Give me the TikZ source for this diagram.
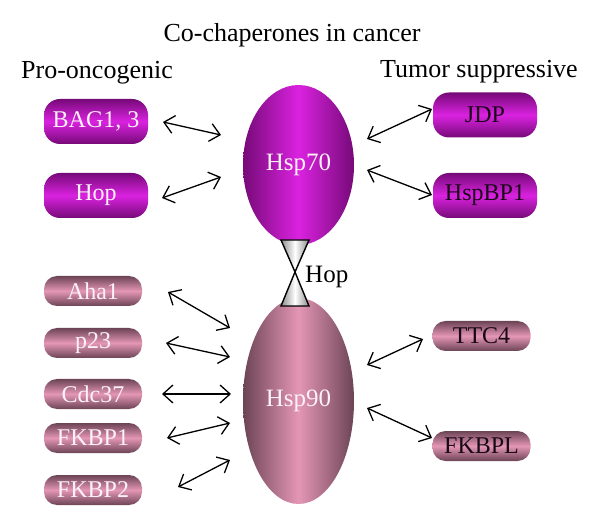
\documentclass[tikz,border=0pt]{standalone}
\usepackage{fontspec}
\setmainfont{Liberation Serif}
\usetikzlibrary{arrows.meta,shapes.geometric}

\definecolor{magDark}{HTML}{760A78}
\definecolor{magLight}{HTML}{DA22E0}
\definecolor{pinkDark}{HTML}{6C4456}
\definecolor{pinkLight}{HTML}{E496B5}
\definecolor{txtLight}{HTML}{FBF1F6}
\definecolor{txtDark}{HTML}{180818}
\definecolor{bowGrey}{HTML}{8C8C8C}

\pgfdeclarehorizontalshading{magH}{100bp}{color(0bp)=(magDark); color(25bp)=(magDark); color(50bp)=(magLight); color(75bp)=(magDark); color(100bp)=(magDark)}
\pgfdeclarehorizontalshading{pinkH}{100bp}{color(0bp)=(pinkDark); color(25bp)=(pinkDark); color(50bp)=(pinkLight); color(75bp)=(pinkDark); color(100bp)=(pinkDark)}

\begin{document}
\begin{tikzpicture}[x=1pt,y=-1pt,
  headtext/.style={inner sep=0pt, font=\fontsize{26}{26}\selectfont, text=black},
  magbox/.style={rounded corners=16pt, minimum width=104pt, minimum height=45pt, inner sep=0pt,
    top color=magDark, bottom color=magDark, middle color=magLight,
    font=\fontsize{24}{24}\selectfont},
  pinkbox/.style={rounded corners=13pt, minimum width=98pt, minimum height=30pt, inner sep=0pt,
    top color=pinkDark, bottom color=pinkDark, middle color=pinkLight,
    font=\fontsize{24}{24}\selectfont},
  lighttext/.style={text=txtLight},
  darktext/.style={text=txtDark},
  magell/.style={ellipse, minimum width=111pt, minimum height=160pt, inner sep=0pt,
    shading=magH, text=txtLight, font=\fontsize{25}{25}\selectfont},
  pinkell/.style={ellipse, minimum width=111pt, minimum height=206pt, inner sep=0pt,
    shading=pinkH, text=txtLight, font=\fontsize{25}{25}\selectfont},
  bow/.style={draw=black, line width=1.4pt, line join=miter,
    left color=bowGrey, right color=bowGrey, middle color=white},
  link/.style={line width=1.3pt, draw=black,
    {Straight Barb[length=10pt,width=18pt]}-{Straight Barb[length=10pt,width=18pt]}}
]
\useasboundingbox (0,0) rectangle (600,529);

% headings
\node[headtext, anchor=base] (title) at (292,42) {Co-chaperones in cancer};
\node[headtext, anchor=base west] (pro) at (21,79) {Pro-oncogenic};
\node[headtext, anchor=base east] (sup) at (578,78) {Tumor suppressive};

% central chaperones
\node[pinkell] (hsp90) at (298.5,401) {Hsp90};
\node[magell] (hsp70) at (298.5,165) {Hsp70};

% Hop bridge (bow tie)
\coordinate (bowtop) at (295,240);
\coordinate (bowmid) at (295,272);
\coordinate (bowbot) at (295,306);
\path[bow] ([xshift=-14pt]bowtop) -- ([xshift=14pt]bowtop) -- (bowmid) -- cycle;
\path[bow] (bowmid) -- ([xshift=14pt]bowbot) -- ([xshift=-14pt]bowbot) -- cycle;
\node[inner sep=0pt, font=\fontsize{25}{25}\selectfont, anchor=west] (hoplabel) at (305,277) {Hop};

% Hsp70 co-chaperones
\node[magbox, lighttext] (bag) at (96,121.5) {BAG1, 3};
\node[magbox, lighttext] (hop) at (96,195.5) {Hop};
\node[magbox, darktext] (jdp) at (485,115) {JDP};
\node[magbox, darktext] (hspbp) at (485,195.5) {HspBP1};

% Hsp90 co-chaperones
\node[pinkbox, lighttext] (aha) at (93,291) {Aha1};
\node[pinkbox, lighttext] (p23) at (93,343) {p23};
\node[pinkbox, lighttext] (cdc) at (93,394) {Cdc37};
\node[pinkbox, lighttext] (fkbp1) at (93,438) {FKBP1};
\node[pinkbox, lighttext] (fkbp2) at (93,490) {FKBP2};
\node[pinkbox, darktext] (ttc) at (481.5,336) {TTC4};
\node[pinkbox, darktext] (fkbpl) at (481.5,446) {FKBPL};

% arrow end points
\coordinate (a1) at (163,122); \coordinate (b1) at (221,135);
\coordinate (a2) at (162,198); \coordinate (b2) at (221,177);
\coordinate (a3) at (367,139); \coordinate (b3) at (432,109);
\coordinate (a4) at (367,170); \coordinate (b4) at (432,195);
\coordinate (a5) at (168,292); \coordinate (b5) at (230,328);
\coordinate (a6) at (166,343); \coordinate (b6) at (230,357);
\coordinate (a7) at (162,394); \coordinate (b7) at (231,394);
\coordinate (a8) at (167,438); \coordinate (b8) at (230,423);
\coordinate (a9) at (178,487); \coordinate (b9) at (230,460);
\coordinate (a10) at (367,365); \coordinate (b10) at (423,339);
\coordinate (a11) at (367,408); \coordinate (b11) at (432,438);

\foreach \i in {1,...,11} {\draw[link] (a\i) -- (b\i);}
\end{tikzpicture}
\end{document}
